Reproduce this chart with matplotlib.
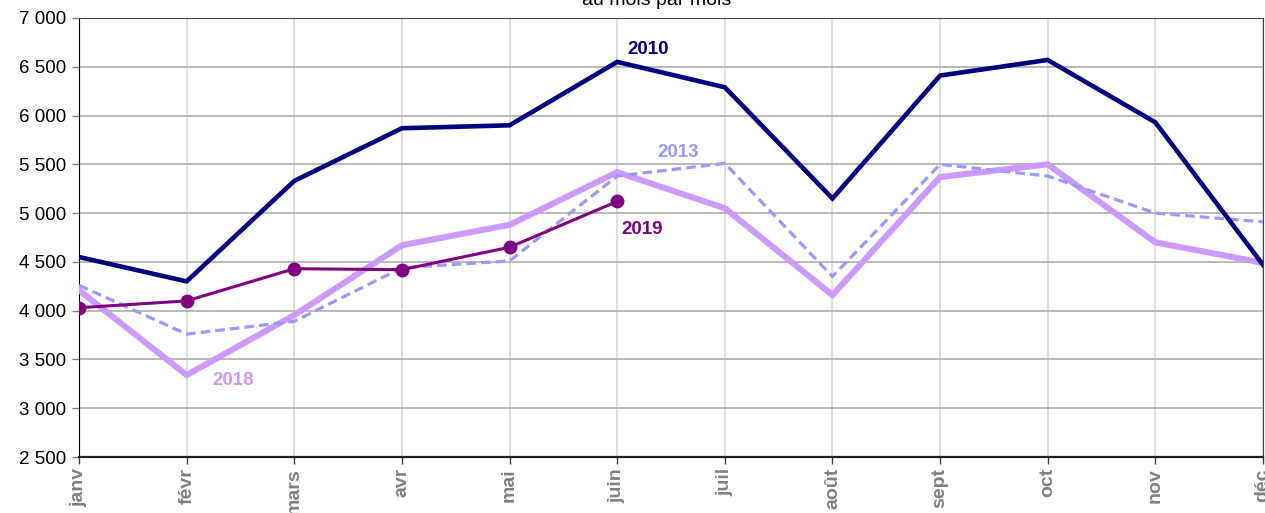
"""Monthly counts 2010 / 2013 / 2018 / 2019 — line chart, month by month."""
import numpy as np
import matplotlib
matplotlib.use("Agg")
import matplotlib.pyplot as plt
from matplotlib.ticker import FuncFormatter, MultipleLocator

plt.rcParams["font.family"] = ["Liberation Sans", "DejaVu Sans"]

MONTHS = ["janv", "févr", "mars", "avr", "mai", "juin",
          "juil", "août", "sept", "oct", "nov", "déc"]
Y2010 = [4550, 4300, 5330, 5870, 5900, 6550, 6290, 5150, 6410, 6570, 5930, 4470]
Y2013 = [4260, 3760, 3890, 4440, 4510, 5380, 5510, 4350, 5500, 5380, 5000, 4910]
Y2018 = [4210, 3340, 3955, 4670, 4880, 5420, 5050, 4160, 5370, 5500, 4700, 4490]
Y2019 = [4030, 4100, 4430, 4420, 4650, 5120]

C2010, C2013, C2018, C2019 = "#000080", "#9999FF", "#CC99FF", "#800080"

fig = plt.figure(figsize=(12.65, 5.13), dpi=100)
ax = fig.add_axes([79 / 1265, 1 - 457 / 513, (1263 - 79) / 1265, (457 - 18) / 513])

x = np.arange(len(MONTHS))
ax.plot(x, Y2018, color=C2018, lw=4.4, solid_joinstyle="miter", zorder=3)
ax.plot(x, Y2013, color=C2013, lw=2.3, ls=(0, (3, 1.6)), zorder=4)
ax.plot(x, Y2010, color=C2010, lw=3.3, solid_joinstyle="miter", zorder=5)
ax.plot(x[:len(Y2019)], Y2019, color=C2019, lw=2.2, marker="o", ms=9, zorder=6)

# series labels (placed by hand, as in the source chart)
kw = dict(fontsize=13.5, fontweight="bold", ha="center", va="center", zorder=7)
ax.text(5.29, 6682, "2010", color=C2010, **kw)
ax.text(5.565, 5626, "2013", color=C2013, **kw)
ax.text(1.43, 3289, "2018", color=C2018, **kw)
ax.text(5.23, 4827, "2019", color=C2019, **kw)

ax.set_xlim(0, 11)
ax.set_ylim(2500, 7000)
ax.yaxis.set_major_locator(MultipleLocator(500))
ax.yaxis.set_major_formatter(FuncFormatter(lambda v, p: f"{int(v):,}".replace(",", " ")))
ax.set_xticks(x)
ax.set_xticklabels(MONTHS, rotation=90, color="#808080", fontweight="bold",
                   fontsize=14, va="top", ha="center")
ax.tick_params(axis="y", labelsize=13.5, length=5, width=1, color="#808080", pad=4)
ax.tick_params(axis="x", length=5, width=1, color="#404040", pad=3)

ax.grid(axis="y", color="#a6a6a6", lw=1.1, zorder=0)
ax.grid(axis="x", color="#d4d4d4", lw=1.1, zorder=0)
ax.set_axisbelow(True)
ax.spines["left"].set_color("black")
ax.spines["bottom"].set_color("#222222")
ax.spines["bottom"].set_linewidth(1.6)
ax.spines["top"].set_color("#444444")
ax.spines["right"].set_color("#444444")

# title's second line, cut by the top edge as in the reference
fig.text(657 / 1265, 1 - 5 / 513, "au mois par mois", ha="center", va="baseline", fontsize=14)

fig.savefig("out.png", dpi=100)
